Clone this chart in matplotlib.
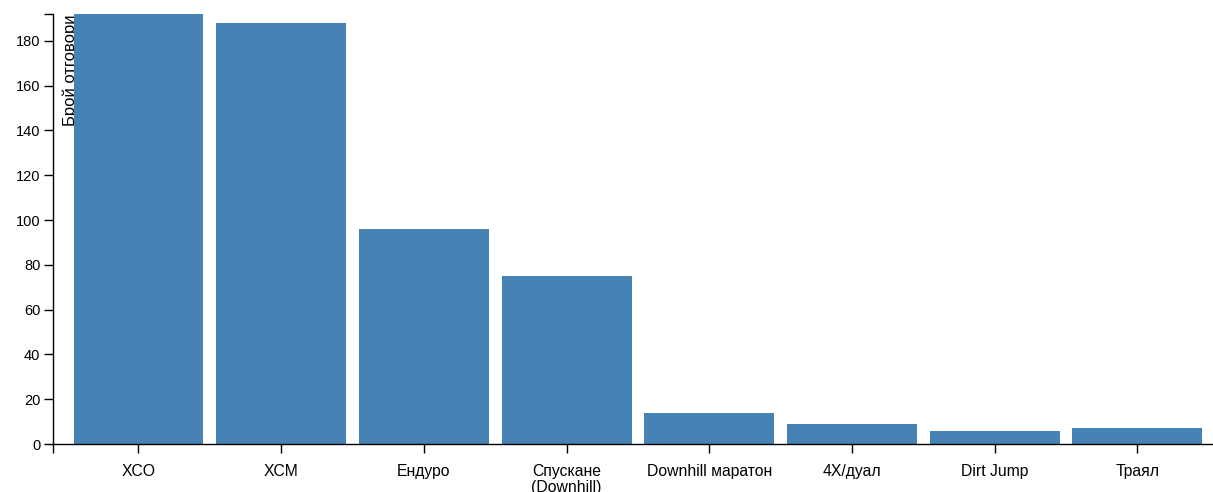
#!/usr/bin/env python3
# -*- coding: utf-8 -*-
"""Bar chart: responses per MTB discipline."""

import matplotlib

matplotlib.use("Agg")
import matplotlib.pyplot as plt

categories = ["XCO", "XCM", "Ендуро", "Спускане\n(Downhill)", "Downhill маратон",
              "4X/дуал", "Dirt Jump", "Траял"]
counts = [192, 188, 96, 75, 14, 9, 6, 7]
y_ticks = [0, 20, 40, 60, 80, 100, 120, 140, 160, 180]
y_label = "Брой отговори"

W, H = 1213, 492
plt.rcParams["font.family"] = ["Liberation Sans", "DejaVu Sans"]

fig = plt.figure(figsize=(W / 100, H / 100), dpi=100)
ax_left, ax_right, ax_top, ax_bottom = 53, 1213, 14, 444
ax = fig.add_axes([ax_left / W, (H - ax_bottom) / H,
                   (ax_right - ax_left) / W, (ax_bottom - ax_top) / H])

x = list(range(len(categories)))
ax.bar(x, counts, width=0.91, color="#4682b4", zorder=2)

xmin, xmax = -0.599, 7.53
ax.set_xlim(xmin, xmax)
ax.set_ylim(0, max(counts))

for side in ("top", "right"):
    ax.spines[side].set_visible(False)
for side in ("left", "bottom"):
    ax.spines[side].set_linewidth(1.0)
    ax.spines[side].set_color("black")

ax.set_xticks(x)
ax.set_xticklabels(categories, fontsize=11.3, linespacing=1.1)
ax.set_yticks(y_ticks)
ax.set_yticklabels([str(v) for v in y_ticks], fontsize=10.5)
# outer end ticks like a d3 axis path
ax.set_xticks([xmin], minor=True)
ax.set_yticks([max(counts)], minor=True)
ax.tick_params(axis="x", which="both", length=6.5, width=1.0, pad=8)
ax.tick_params(axis="y", which="both", length=6.5, width=1.0, pad=2.5)

ax.text((70.5 - ax_left) / (ax_right - ax_left), 1.0, y_label, rotation=90,
        ha="center", va="top", fontsize=12, transform=ax.transAxes, zorder=1)

fig.savefig("out.png", dpi=100)
plt.close(fig)
